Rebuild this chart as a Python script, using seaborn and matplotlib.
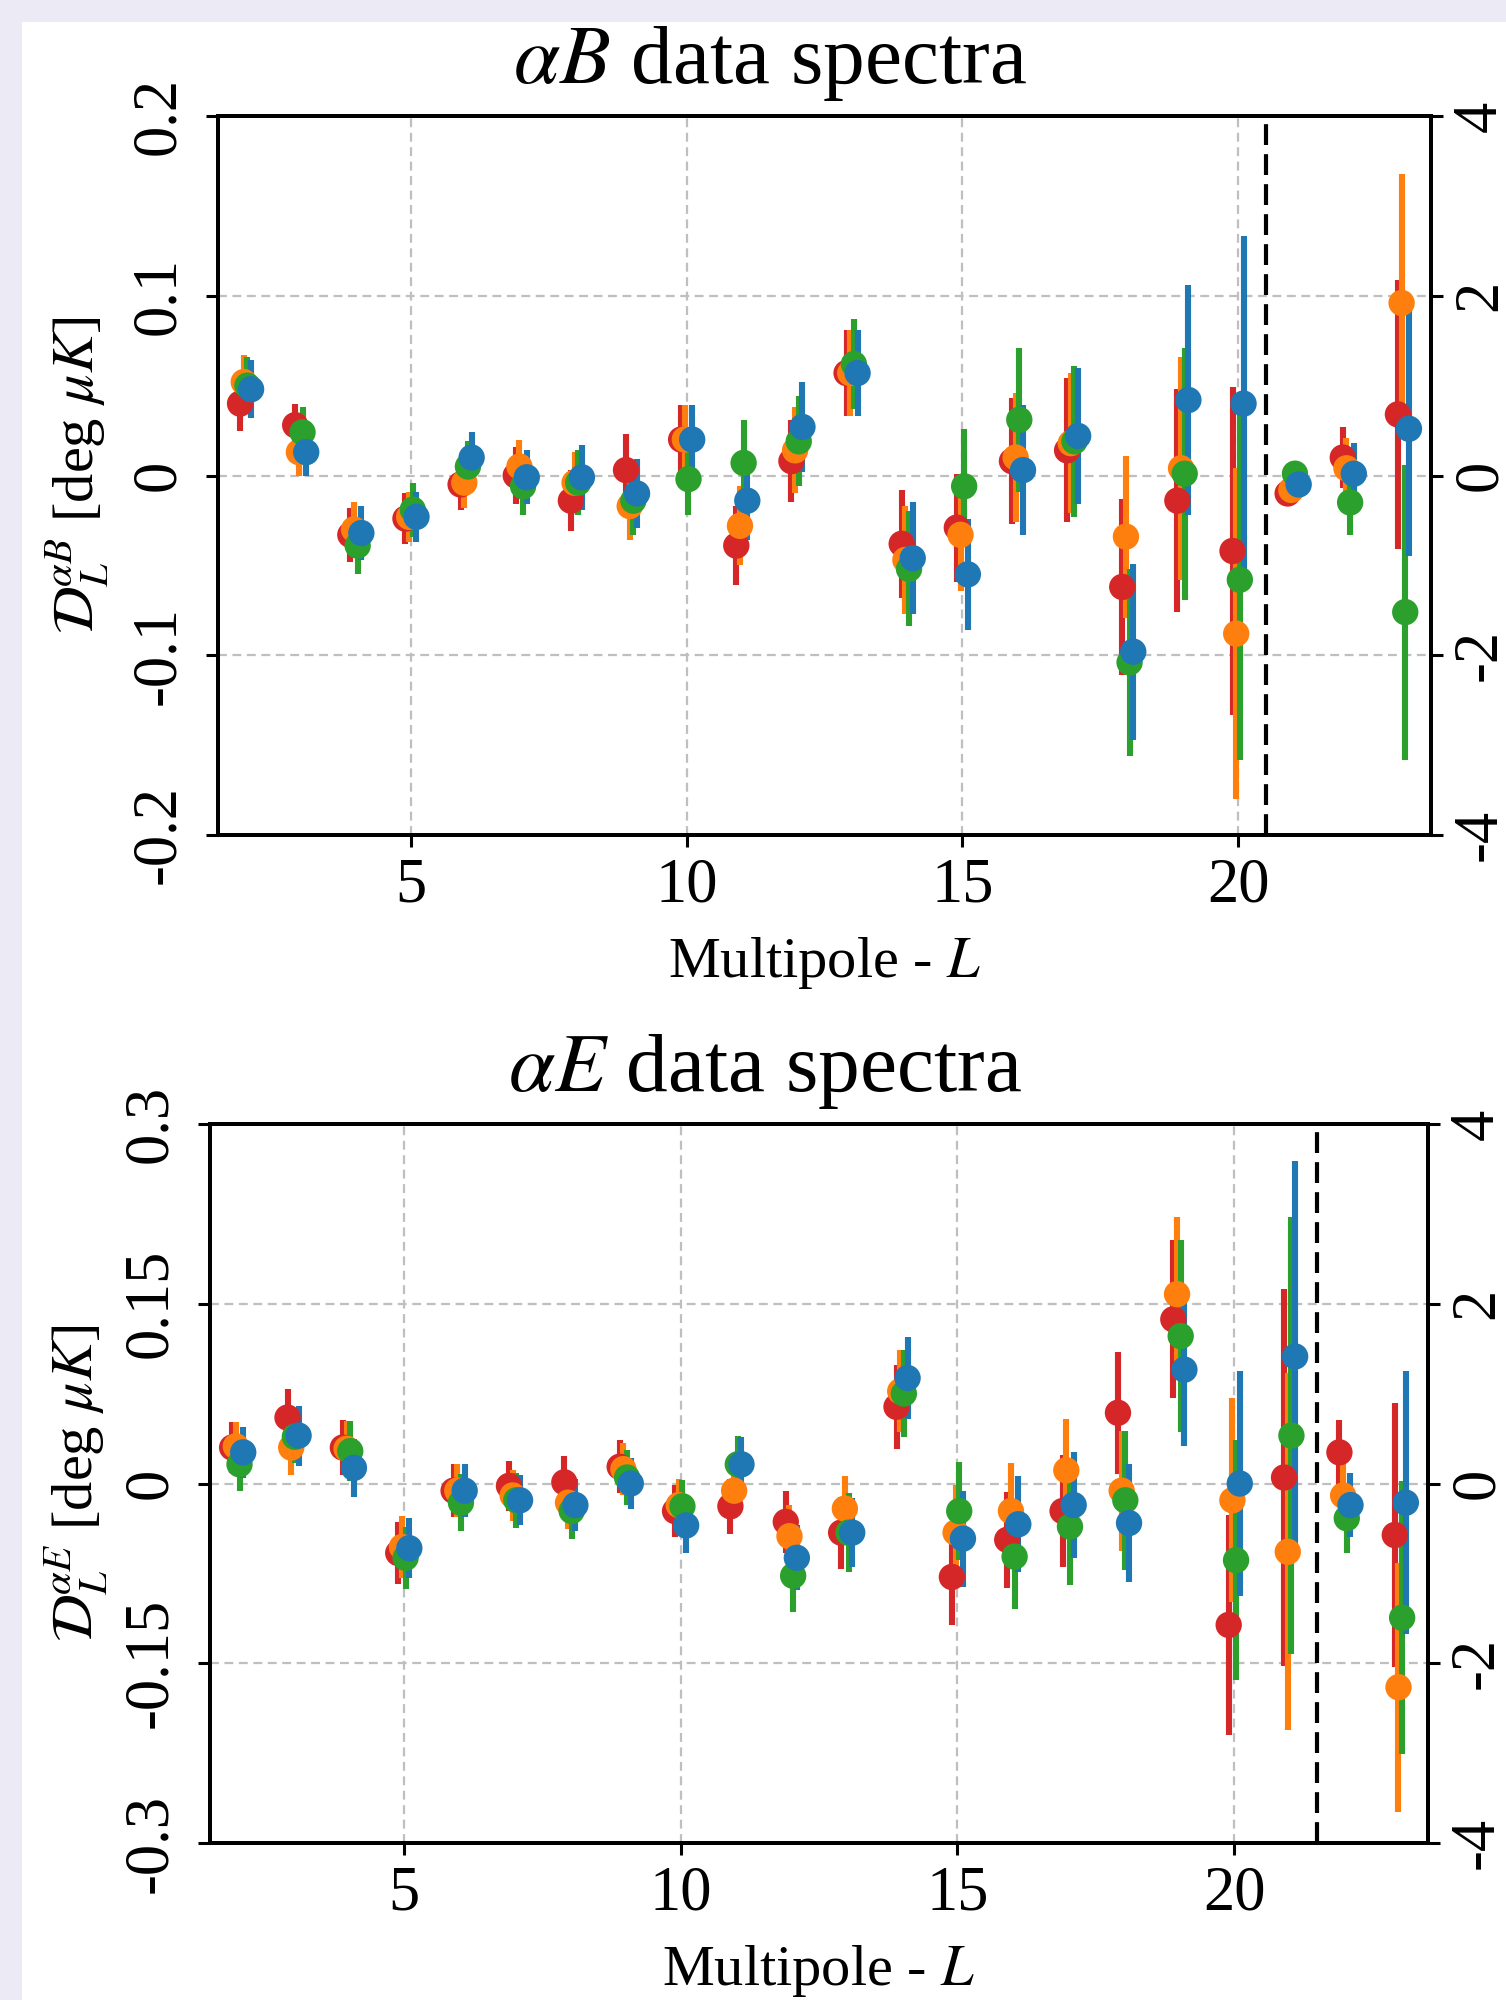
import numpy as np
import pandas as pd
import matplotlib
matplotlib.use("Agg")
import matplotlib.pyplot as plt
import seaborn as sns

# ---------------- data ----------------
multipoles = list(range(2, 24))
series_names = ["red", "orange", "green", "blue"]
series_colors = ["#d62728", "#ff7f0e", "#2ca02c", "#1f77b4"]
series_offsets = [-0.1, -0.033, 0.033, 0.1]

# alpha B spectra (left axis units)
aB_red = [0.040, 0.028, -0.033, -0.024, -0.005, 0.000, -0.014, 0.003, 0.020, -0.039, 0.008,
          0.057, -0.038, -0.029, 0.008, 0.014, -0.062, -0.014, -0.042, -0.010, 0.010, 0.034]
aB_orange = [0.052, 0.013, -0.030, -0.023, -0.004, 0.005, -0.004, -0.017, 0.020, -0.028, 0.014,
             0.057, -0.047, -0.033, 0.010, 0.018, -0.034, 0.004, -0.088, -0.008, 0.004, 0.096]
aB_green = [0.050, 0.024, -0.039, -0.019, 0.005, -0.006, -0.004, -0.014, -0.002, 0.007, 0.019,
            0.062, -0.052, -0.006, 0.031, 0.019, -0.104, 0.001, -0.058, 0.001, -0.015, -0.076]
aB_blue = [0.048, 0.013, -0.032, -0.023, 0.010, -0.001, -0.001, -0.010, 0.020, -0.014, 0.027,
           0.057, -0.046, -0.055, 0.003, 0.022, -0.098, 0.042, 0.040, -0.005, 0.001, 0.026]

aB_red_err = [0.015, 0.012, 0.015, 0.014, 0.014, 0.016, 0.017, 0.020, 0.019, 0.022, 0.023,
              0.024, 0.030, 0.030, 0.035, 0.040, 0.049, 0.062, 0.091, 0.005, 0.017, 0.075]
aB_orange_err = [0.015, 0.013, 0.015, 0.014, 0.014, 0.015, 0.017, 0.019, 0.019, 0.022, 0.024,
                 0.024, 0.030, 0.031, 0.036, 0.039, 0.045, 0.062, 0.092, 0.005, 0.017, 0.072]
aB_green_err = [0.016, 0.014, 0.016, 0.015, 0.014, 0.016, 0.018, 0.019, 0.020, 0.024, 0.025,
                0.025, 0.032, 0.032, 0.040, 0.042, 0.052, 0.070, 0.100, 0.005, 0.018, 0.082]
aB_blue_err = [0.016, 0.013, 0.015, 0.014, 0.014, 0.015, 0.018, 0.019, 0.019, 0.022, 0.025,
               0.024, 0.031, 0.031, 0.036, 0.038, 0.049, 0.064, 0.093, 0.006, 0.017, 0.071]

# alpha E spectra (left axis units)
aE_red = [0.030, 0.055, 0.030, -0.058, -0.006, -0.002, 0.001, 0.014, -0.023, -0.019, -0.032,
          -0.041, 0.064, -0.078, -0.047, -0.023, 0.059, 0.137, -0.118, 0.005, 0.026, -0.043]
aE_orange = [0.031, 0.030, 0.029, -0.053, -0.006, -0.010, -0.016, 0.012, -0.018, -0.006, -0.044,
             -0.021, 0.077, -0.041, -0.023, 0.011, -0.006, 0.158, -0.014, -0.057, -0.010, -0.170]
aE_green = [0.016, 0.039, 0.027, -0.062, -0.016, -0.014, -0.023, 0.005, -0.019, 0.016, -0.077,
            -0.041, 0.075, -0.023, -0.061, -0.036, -0.014, 0.123, -0.064, 0.040, -0.029, -0.112]
aE_blue = [0.026, 0.040, 0.013, -0.054, -0.006, -0.014, -0.018, 0.000, -0.035, 0.016, -0.062,
           -0.041, 0.088, -0.046, -0.034, -0.018, -0.033, 0.095, 0.000, 0.106, -0.018, -0.016]

aE_red_err = [0.021, 0.024, 0.023, 0.026, 0.022, 0.021, 0.022, 0.022, 0.022, 0.023, 0.026,
              0.030, 0.035, 0.040, 0.040, 0.047, 0.051, 0.066, 0.092, 0.157, 0.027, 0.110]
aE_orange_err = [0.020, 0.023, 0.023, 0.026, 0.022, 0.021, 0.022, 0.022, 0.022, 0.023, 0.026,
                 0.027, 0.034, 0.040, 0.040, 0.043, 0.050, 0.064, 0.085, 0.149, 0.027, 0.104]
aE_green_err = [0.022, 0.022, 0.025, 0.026, 0.024, 0.023, 0.023, 0.023, 0.022, 0.024, 0.030,
                0.033, 0.036, 0.041, 0.044, 0.049, 0.058, 0.080, 0.100, 0.182, 0.029, 0.114]
aE_blue_err = [0.021, 0.025, 0.024, 0.025, 0.022, 0.021, 0.022, 0.021, 0.023, 0.023, 0.027,
               0.029, 0.034, 0.040, 0.040, 0.044, 0.049, 0.064, 0.094, 0.163, 0.027, 0.110]

x_ticks = [5, 10, 15, 20]
x_ticklabels = ["5", "10", "15", "20"]

aB_yticks = [-0.2, -0.1, 0.0, 0.1, 0.2]
aB_yticklabels = ["-0.2", "-0.1", "0", "0.1", "0.2"]
aE_yticks = [-0.3, -0.15, 0.0, 0.15, 0.3]
aE_yticklabels = ["-0.3", "-0.15", "0", "0.15", "0.3"]
right_yticks = [-4, -2, 0, 2, 4]
right_yticklabels = ["-4", "-2", "0", "2", "4"]

aB_cut = 20.5
aE_cut = 21.5

# ---------------- style ----------------
sns.set_theme(style="white")
plt.rcParams["font.family"] = ["Liberation Serif", "DejaVu Serif"]
plt.rcParams["mathtext.fontset"] = "stix"
plt.rcParams["axes.edgecolor"] = "black"
plt.rcParams["axes.labelcolor"] = "black"
plt.rcParams["text.color"] = "black"
plt.rcParams["xtick.color"] = "black"
plt.rcParams["ytick.color"] = "black"

TICK_FS = 45
LABEL_FS = 42
TITLE_FS = 60

fig = plt.figure(figsize=(15.06, 20), dpi=100)
fig.patch.set_facecolor("white")
# pale decorative strips at the left and top edges
fig.add_artist(plt.Rectangle((0, 0), 22 / 1506, 1, transform=fig.transFigure,
                             facecolor="#eceaf4", edgecolor="none", zorder=-5))
fig.add_artist(plt.Rectangle((0, 1 - 22 / 2000), 1, 22 / 2000, transform=fig.transFigure,
                             facecolor="#eceaf4", edgecolor="none", zorder=-5))


def draw_panel(rect, vals, errs, ylim, yticks, yticklabels, cut, title, title_x,
               ylabel, ylabel_x):
    ax = fig.add_axes(rect)
    rows = []
    for name, color, off, v, e in zip(series_names, series_colors, series_offsets, vals, errs):
        xs = np.asarray(multipoles, dtype=float) + off
        ax.errorbar(xs, v, yerr=e, fmt="none", ecolor=color, elinewidth=4.4,
                    capsize=0, zorder=2)
        for xx, yy in zip(xs, v):
            rows.append({"x": xx, "y": yy, "series": name})
    df = pd.DataFrame(rows)
    sns.scatterplot(data=df, x="x", y="y", hue="series", hue_order=series_names,
                    palette=series_colors, s=360, linewidth=0, legend=False,
                    ax=ax, zorder=3)
    ax.axvline(cut, color="black", lw=3.0, ls=(0, (5, 2.2)), zorder=4)

    ax.set_xlim(1.5, 23.5)
    ax.set_ylim(*ylim)
    ax.set_xticks(x_ticks)
    ax.set_xticklabels(x_ticklabels)
    ax.set_yticks(yticks)
    ax.set_yticklabels(yticklabels, rotation=90, va="center")
    ax.grid(True, color="#bfbfbf", ls=(0, (4, 2.5)), lw=1.6)
    ax.set_axisbelow(True)
    ax.tick_params(axis="x", which="both", bottom=True, top=False, direction="out",
                   length=8.5, width=2.2, labelsize=TICK_FS, pad=8)
    ax.tick_params(axis="y", which="both", left=True, right=False, direction="out",
                   length=8.5, width=2.2, labelsize=TICK_FS, pad=13)
    ax.set_xlabel(r"Multipole - $L$", fontsize=LABEL_FS, labelpad=14)
    ax.set_ylabel(ylabel, fontsize=LABEL_FS)
    ax.yaxis.set_label_coords(ylabel_x, 0.5)
    ax.set_title(title, fontsize=TITLE_FS, pad=24, x=title_x)
    for sp in ax.spines.values():
        sp.set_linewidth(2.8)
        sp.set_color("black")

    ax2 = ax.twinx()
    ax2.set_ylim(-4, 4)
    ax2.set_yticks(right_yticks)
    ax2.set_yticklabels(right_yticklabels, rotation=90, va="center")
    ax2.grid(False)
    ax2.tick_params(axis="y", right=True, direction="out", length=8.5, width=2.2,
                    labelsize=TICK_FS, pad=6.5)
    for sp in ax2.spines.values():
        sp.set_linewidth(2.8)
        sp.set_color("black")
    return ax


draw_panel([218 / 1506, 1 - 835 / 2000, (1431 - 218) / 1506, 719 / 2000],
           [aB_red, aB_orange, aB_green, aB_blue],
           [aB_red_err, aB_orange_err, aB_green_err, aB_blue_err],
           (-0.2, 0.2), aB_yticks, aB_yticklabels, aB_cut,
           r"$\alpha B$ data spectra", 0.455,
           r"$\mathcal{D}_L^{\alpha B}$ [deg $\mu K$]", -0.088)

draw_panel([210 / 1506, 1 - 1843 / 2000, (1428 - 210) / 1506, 719 / 2000],
           [aE_red, aE_orange, aE_green, aE_blue],
           [aE_red_err, aE_orange_err, aE_green_err, aE_blue_err],
           (-0.3, 0.3), aE_yticks, aE_yticklabels, aE_cut,
           r"$\alpha E$ data spectra", 0.456,
           r"$\mathcal{D}_L^{\alpha E}$ [deg $\mu K$]", -0.082)

fig.savefig("out.png", dpi=100)
